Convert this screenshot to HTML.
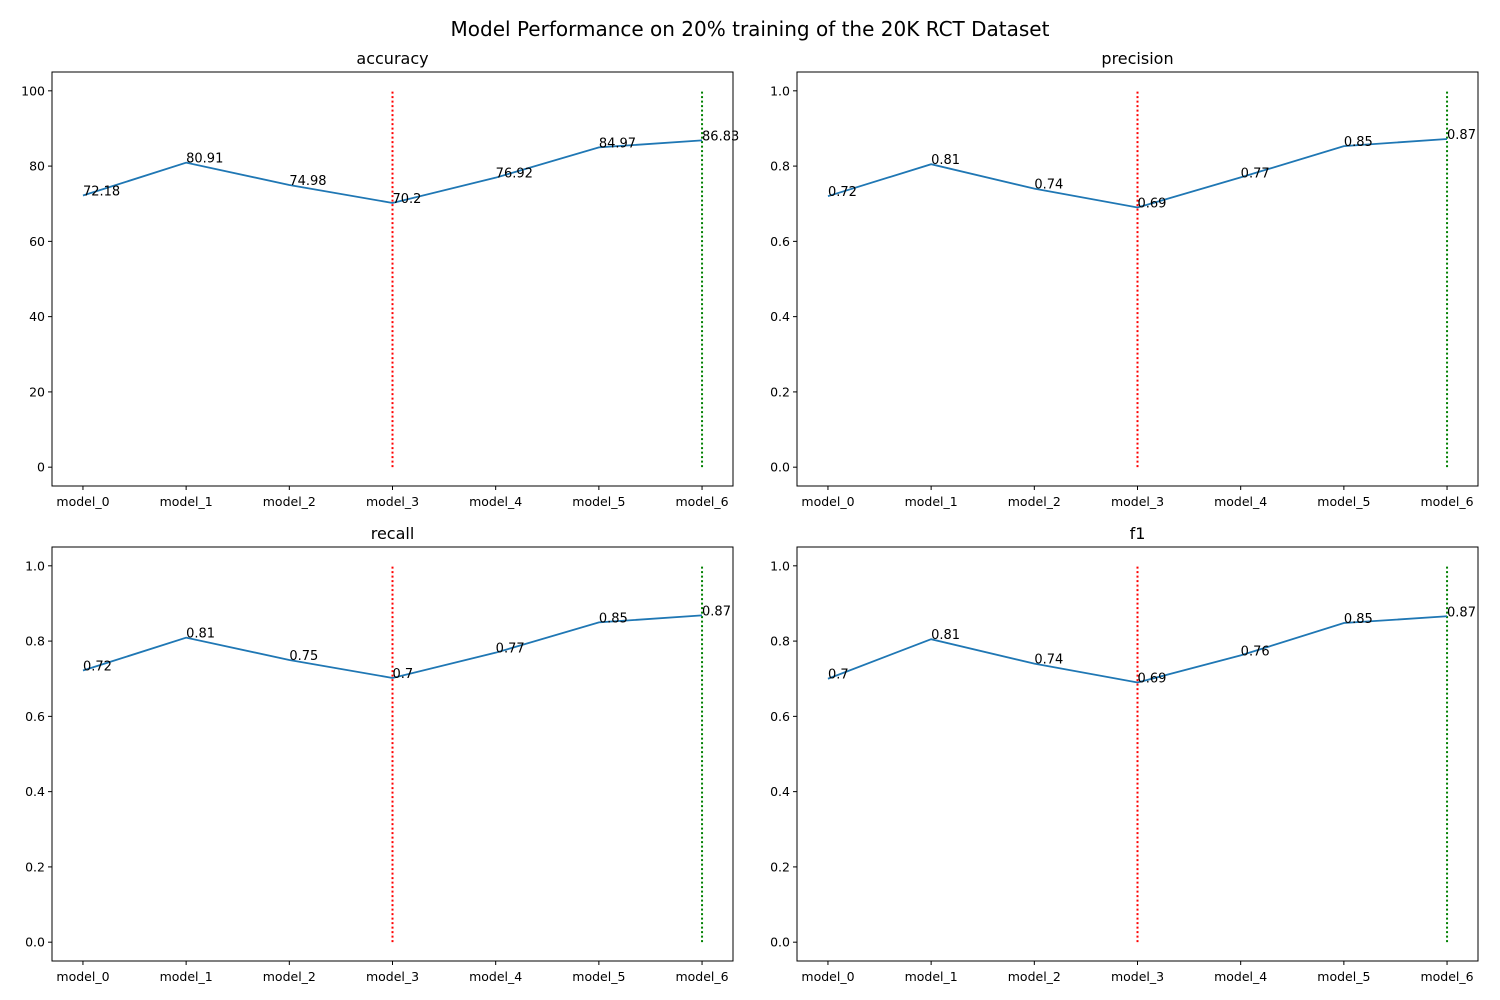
<!DOCTYPE html>
<html><head><meta charset="utf-8"><style>body{margin:0;background:#fff}svg{display:block;font-family:"DejaVu Sans","Liberation Sans",sans-serif}</style></head>
<body>
<svg id="c" width="1500" height="1000">
<text x="750" y="36" text-anchor="middle" font-size="20">Model Performance on 20% training of the 20K RCT Dataset</text>
</svg>
<script>
const categories = ["model_0","model_1","model_2","model_3","model_4","model_5","model_6"];
const accuracyValues = [72.18, 80.91, 74.98, 70.2, 76.92, 84.97, 86.83];
const precisionValues = [0.72, 0.805, 0.74, 0.69, 0.77, 0.853, 0.872];
const recallValues = [0.7218, 0.8091, 0.7498, 0.702, 0.7692, 0.8497, 0.8683];
const f1Values = [0.70, 0.805, 0.74, 0.69, 0.762, 0.848, 0.866];
const accTicks = [0, 20, 40, 60, 80, 100];
const fracTicks = [0, 0.2, 0.4, 0.6, 0.8, 1.0];
const worstIndex = 3, bestIndex = 6;
const NS = "http://www.w3.org/2000/svg";
const svg = document.getElementById("c");
function mk(tag, attrs, parent){const e=document.createElementNS(NS,tag);for(const k in attrs)e.setAttribute(k,attrs[k]);(parent||svg).appendChild(e);return e;}
const panels = [
 {name:"accuracy", vals:accuracyValues, ticks:accTicks, max:100, x0:52, x1:733, y0:72, y1:486, tickFmt:v=>String(v)},
 {name:"precision", vals:precisionValues, ticks:fracTicks, max:1, x0:797, x1:1478, y0:72, y1:486, tickFmt:v=>v.toFixed(1)},
 {name:"recall", vals:recallValues, ticks:fracTicks, max:1, x0:52, x1:733, y0:547, y1:961, tickFmt:v=>v.toFixed(1)},
 {name:"f1", vals:f1Values, ticks:fracTicks, max:1, x0:797, x1:1478, y0:547, y1:961, tickFmt:v=>v.toFixed(1)}
];
panels.forEach(p=>{
 const g = mk("g",{});
 
 
 const lo=-0.05*p.max, hi=1.05*p.max;
 const X = i => p.x0 + (i+0.3)/6.6*(p.x1-p.x0);
 const Y = v => p.y1 - (v-lo)/(hi-lo)*(p.y1-p.y0);
 [[worstIndex,"red"],[bestIndex,"green"]].forEach(([i,c])=>{
  const l=mk("line",{x1:X(i),x2:X(i),y1:Y(0),y2:Y(p.max),stroke:c,"stroke-width":2,"stroke-dasharray":"2,2.5"},g);
  
  
 });
 const pl=mk("polyline",{points:p.vals.map((v,i)=>X(i)+","+Y(v)).join(" "),fill:"none",stroke:"#1f77b4","stroke-width":1.8},g);
 
 
 p.vals.forEach((v,i)=>{
  const t=mk("text",{x:X(i),y:Y(v),"font-size":13},g);
  t.textContent=String(Number(v.toFixed(2)));
  
  
 });
 const r=mk("rect",{x:p.x0,y:p.y0,width:p.x1-p.x0,height:p.y1-p.y0,fill:"none",stroke:"#000","stroke-width":1},g);
 
 
 p.ticks.forEach(v=>{
  mk("line",{x1:p.x0-4,x2:p.x0,y1:Y(v),y2:Y(v),stroke:"#000"},g);
  const t=mk("text",{x:p.x0-7,y:Y(v)+4.5,"font-size":12.5,"text-anchor":"end"},g);
  t.textContent=p.tickFmt(v);
  
  
 });
 categories.forEach((c,i)=>{
  mk("line",{x1:X(i),x2:X(i),y1:p.y1,y2:p.y1+4,stroke:"#000"},g);
  const t=mk("text",{x:X(i),y:p.y1+20,"font-size":12.5,"text-anchor":"middle"},g);
  t.textContent=c;
  
  
 });
 const tt=mk("text",{x:(p.x0+p.x1)/2,y:p.y0-8,"font-size":16,"text-anchor":"middle"},g);
 tt.textContent=p.name;
 
 
});
</script>
</body></html>
